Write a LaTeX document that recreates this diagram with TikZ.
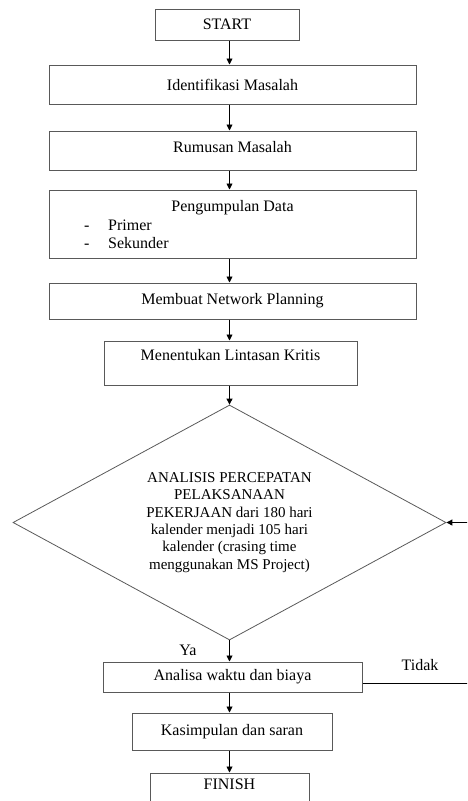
\documentclass[tikz,border=0pt]{standalone}
\usepackage{fontspec}
\setmainfont{Liberation Serif}
\usetikzlibrary{shapes.geometric,arrows.meta}
\begin{document}
\begin{tikzpicture}[x=1pt,y=-1pt,
  txt/.style={font=\fontsize{16}{17.4}\selectfont},
  box/.style={draw=black!65, line width=1pt, rectangle, inner sep=0pt, txt},
  lbl/.style={inner sep=0pt, txt},
  arr/.style={-{Triangle[length=6pt,width=6pt]}, line width=0.9pt, black},
  conn/.style={line width=0.9pt, black!75}]
\useasboundingbox (0,0) rectangle (467,801);
\clip (0,0) rectangle (467,801);
\coordinate (col) at (229.5,0);
\coordinate (fbx) at (490,0);

\node[box, minimum width=144pt, minimum height=31pt] (start) at (227,24.5) {START};
\node[box, minimum width=367pt, minimum height=39pt] (ident) at (232.5,84.5) {Identifikasi Masalah};
\node[box, minimum width=367pt, minimum height=39pt, text height=11pt, text depth=8pt] (rumus) at (232.5,150.5) {Rumusan Masalah};
\node[box, minimum width=367pt, minimum height=68pt] (peng) at (232.5,224) {};
\node[lbl, anchor=base] (pengt) at (232.5,211.5) {Pengumpulan Data};
\node[lbl, anchor=base west] (d1) at (84,230) {-};
\node[lbl, anchor=base west] (prim) at (108,230) {Primer};
\node[lbl, anchor=base west] (d2) at (84,248) {-};
\node[lbl, anchor=base west] (sek) at (108,248) {Sekunder};
\node[box, minimum width=367pt, minimum height=36pt] (netw) at (232.5,301) {Membuat Network Planning};
\node[box, minimum width=253pt, minimum height=44pt, text height=11pt, text depth=17pt] (lint) at (230.5,363) {Menentukan Lintasan Kritis};
\node[draw=black!65, line width=0.8pt, diamond, aspect=1.84, minimum width=433pt, minimum height=235pt,
      inner sep=0pt, align=center, font=\fontsize{15}{17.4}\selectfont] (dec) at (229.5,522.5)
  {ANALISIS PERCEPATAN\\PELAKSANAAN\\PEKERJAAN dari 180 hari\\kalender menjadi 105 hari\\kalender (crasing time\\menggunakan MS Project)};
\node[box, minimum width=259pt, minimum height=30pt] (ana) at (232.5,677) {Analisa waktu dan biaya};
\node[box, minimum width=200pt, minimum height=37pt] (kes) at (232,731.5) {Kasimpulan dan saran};
\node[box, minimum width=159pt, minimum height=40pt, text height=11pt, text depth=18pt] (fin) at (229.5,793) {FINISH};

\node[lbl] (ya) at (188,650) {Ya};
\node[lbl] (tidak) at (420,665) {Tidak};

\draw[arr] (start.south -| col) -- (ident.north -| col);
\draw[arr] (ident.south -| col) -- (rumus.north -| col);
\draw[arr] (rumus.south -| col) -- (peng.north -| col);
\draw[arr] (peng.south -| col) -- (netw.north -| col);
\draw[arr] (netw.south -| col) -- (lint.north -| col);
\draw[arr] (lint.south -| col) -- (dec.north);
\draw[arr] (dec.south) -- (ana.north -| dec.south);
\draw[arr] (ana.south -| col) -- (kes.north -| col);
\draw[arr] (kes.south -| col) -- (fin.north -| col);
\draw[arr] ([yshift=-6pt]ana.east) -- ([yshift=-6pt]ana.east -| fbx) -- (fbx |- dec.east) -- (dec.east);
\end{tikzpicture}
\end{document}
